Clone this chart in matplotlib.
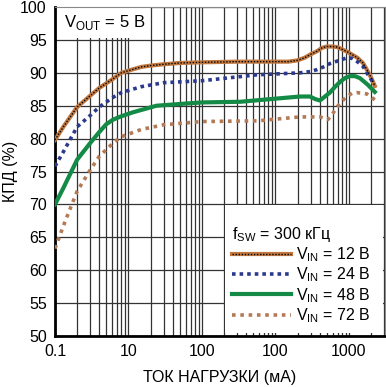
import matplotlib.pyplot as plt
from matplotlib.patches import Rectangle
from matplotlib.legend_handler import HandlerTuple
from matplotlib.ticker import FixedLocator, NullFormatter

plt.rcParams['font.family'] = ['Liberation Sans', 'DejaVu Sans']

# load current (mA) and efficiency (%)
i_12 = [0.1, 0.13, 0.2, 0.3, 0.4, 0.6, 0.8, 1.2, 1.5, 2, 3, 5, 10, 30, 150, 200, 250,
        300, 370, 430, 500, 600, 700, 950, 1300, 1550, 1750, 2000, 2250]
eff_12 = [79.8, 81.8, 84.8, 86.5, 87.7, 89.0, 90.0, 90.6, 90.9, 91.1, 91.3, 91.5, 91.6,
          91.7, 91.7, 91.9, 92.3, 92.8, 93.3, 93.8, 94.0, 94.0, 93.9, 93.2, 92.3, 91.5,
          90.5, 89.3, 88.0]

i_24 = [0.1, 0.13, 0.2, 0.3, 0.4, 0.6, 0.8, 1.5, 3, 10, 56, 215, 300, 370, 450, 550,
        700, 950, 1100, 1300, 1550, 1750, 2000, 2250]
eff_24 = [75.8, 78.0, 81.8, 83.5, 84.8, 86.2, 87.0, 87.9, 88.5, 88.8, 89.7, 90.0, 90.2,
          90.5, 90.9, 91.4, 91.8, 92.3, 92.2, 91.7, 91.0, 90.0, 89.0, 88.2]

i_48 = [0.1, 0.13, 0.2, 0.3, 0.4, 0.5, 0.62, 0.8, 1.15, 2.4, 5.5, 10, 33, 215, 294, 350,
        403, 460, 551, 650, 755, 880, 1030, 1200, 1410, 1800, 2250]
eff_48 = [70.0, 72.5, 76.8, 79.3, 81.0, 82.2, 82.9, 83.4, 84.0, 85.0, 85.3, 85.5, 85.6,
          86.4, 86.4, 86.0, 85.8, 86.3, 87.0, 87.9, 88.6, 89.2, 89.5, 89.5, 89.2, 88.2, 87.1]

i_72 = [0.1, 0.137, 0.2, 0.3, 0.4, 0.6, 0.8, 1.5, 3, 10, 56, 215, 403, 518, 600, 690,
        800, 940, 1100, 1280, 1500, 1750, 2250]
eff_72 = [63.3, 67.4, 72.0, 75.2, 77.3, 79.2, 80.3, 81.4, 82.1, 82.6, 82.7, 83.3, 83.3,
          82.9, 83.8, 84.8, 85.7, 86.4, 86.9, 87.0, 86.9, 86.8, 85.9]

x_ticks = [0.1, 1, 10, 100, 1000]
x_tick_labels = ['0.1', '10', '100', '100', '1000']
y_ticks = [50, 55, 60, 65, 70, 75, 80, 85, 90, 95, 100]

fig = plt.figure(figsize=(3.86, 3.87), dpi=100)
ax = fig.add_axes([0.1425, 0.1318, 0.855, 0.85])

ax.set_xscale('log')
ax.set_xlim(0.1, 3100)
ax.set_ylim(50, 100)

minor = [m * 10.0 ** e for e in range(-1, 4) for m in range(2, 10)]
ax.xaxis.set_major_locator(FixedLocator(x_ticks))
ax.xaxis.set_minor_locator(FixedLocator(minor))
ax.xaxis.set_minor_formatter(NullFormatter())
ax.set_xticks(x_ticks, x_tick_labels)
ax.set_yticks(y_ticks)
ax.tick_params(which='both', length=0, labelsize=11.5, pad=6)

ax.set_axisbelow(True)
ax.grid(True, which='both', axis='x', color='#333333', lw=0.9)
ax.grid(True, which='major', axis='y', color='#333333', lw=0.9)

for side in ['left', 'bottom']:
    ax.spines[side].set_linewidth(2)
    ax.spines[side].set_color('black')
for side in ['top', 'right']:
    ax.spines[side].set_linewidth(0.8)
    ax.spines[side].set_color('#888888')

# white boxes behind annotations
ax.add_patch(Rectangle((0, 0.906), 0.288, 0.094, transform=ax.transAxes,
                       facecolor='white', edgecolor='none', zorder=1))
ax.add_patch(Rectangle((0.515, 0.008), 0.48, 0.39, transform=ax.transAxes,
                       facecolor='white', edgecolor='none', zorder=1))

brown = '#c07840'
l12a, = ax.plot(i_12, eff_12, color=brown, lw=3, zorder=3)
l12b, = ax.plot(i_12, eff_12, color='black', lw=1, ls=(0, (1, 1.2)), zorder=4)
l24, = ax.plot(i_24, eff_24, color='#2b3a8f', lw=2.6, ls=(0, (1, 1.1)), zorder=3)
l48, = ax.plot(i_48, eff_48, color='#138a45', lw=3, zorder=3)
l72, = ax.plot(i_72, eff_72, color='#b47a55', lw=2.6, ls=(0, (1, 1.3)), zorder=3)

ax.text(0.027, 0.954, r'V$_{\mathregular{OUT}}$ = 5 В', transform=ax.transAxes,
        fontsize=12, va='center', ha='left', zorder=5)

leg = ax.legend([(l12a, l12b), l24, l48, l72],
                [r'V$_{\mathregular{IN}}$ = 12 В', r'V$_{\mathregular{IN}}$ = 24 В',
                 r'V$_{\mathregular{IN}}$ = 48 В', r'V$_{\mathregular{IN}}$ = 72 В'],
                handler_map={tuple: HandlerTuple(ndivide=1)},
                loc='lower right', bbox_to_anchor=(1.0, -0.01), frameon=False,
                fontsize=11.5, handlelength=3.7, handletextpad=0.3, labelspacing=0.1,
                title=r'f$_{\mathregular{SW}}$ = 300 кГц', title_fontsize=11.5,
                alignment='left')
leg.set_zorder(5)

ax.set_ylabel('КПД (%)', fontsize=11.5, va='center')
ax.yaxis.set_label_coords(-0.135, 0.5)
ax.set_xlabel('ТОК НАГРУЗКИ (мА)', fontsize=11.5, labelpad=8)

fig.savefig('out.png', dpi=100)
